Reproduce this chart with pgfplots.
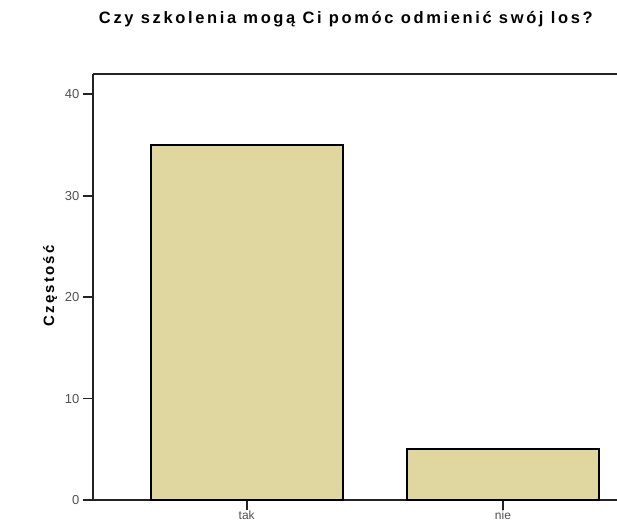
\documentclass[border=0pt]{standalone}
\usepackage{pgfplots}
\pgfplotsset{compat=1.18}
\usepackage{fontspec}
\setmainfont{Liberation Sans}
\definecolor{barfill}{RGB}{224,214,160}
\definecolor{axisdark}{RGB}{35,35,35}
\definecolor{ticktext}{RGB}{80,80,80}
\begin{document}
\begin{tikzpicture}
\useasboundingbox (0,0) rectangle (617pt,525pt);
\begin{axis}[
    at={(93pt,25pt)}, anchor=south west,
    scale only axis,
    width=524pt, height=426pt,
    ybar, bar width=0.75,
    xmin=-0.6, xmax=1.445,
    ymin=0, ymax=42,
    axis x line*=box,
    axis y line*=left,
    axis line style={axisdark, line width=2pt},
    xtick={0,1}, xticklabels={tak,nie},
    ytick={0,10,20,30,40},
    tick align=outside,
    major tick length=10pt,
    tick style={axisdark, line width=1.6pt},
    xtick pos=bottom, ytick pos=left,
    yticklabel style={font=\fontsize{13}{14}\selectfont, text=ticktext, inner sep=3.5pt},
    xticklabel style={font=\fontsize{12}{13}\selectfont, text=ticktext, inner sep=1pt},
    /pgf/number format/assume math mode=true,
    ylabel={\addfontfeatures{LetterSpace=15}\textbf{Częstość}},
    ylabel style={font=\fontsize{15}{17}\selectfont, at={(rel axis cs:-0.082,0.505)}, anchor=center},
    title={\addfontfeatures{LetterSpace=16}\textbf{Czy szkolenia mogą Ci pomóc odmienić swój los?}},
    title style={font=\fontsize{16.5}{18}\selectfont, at={(rel axis cs:0.485,1)}, anchor=center, yshift=49pt},
    clip=false,
]
\addplot[fill=barfill, draw=black, line width=1.8pt] coordinates {(0,35) (1,5)};
\end{axis}
\end{tikzpicture}
\end{document}
